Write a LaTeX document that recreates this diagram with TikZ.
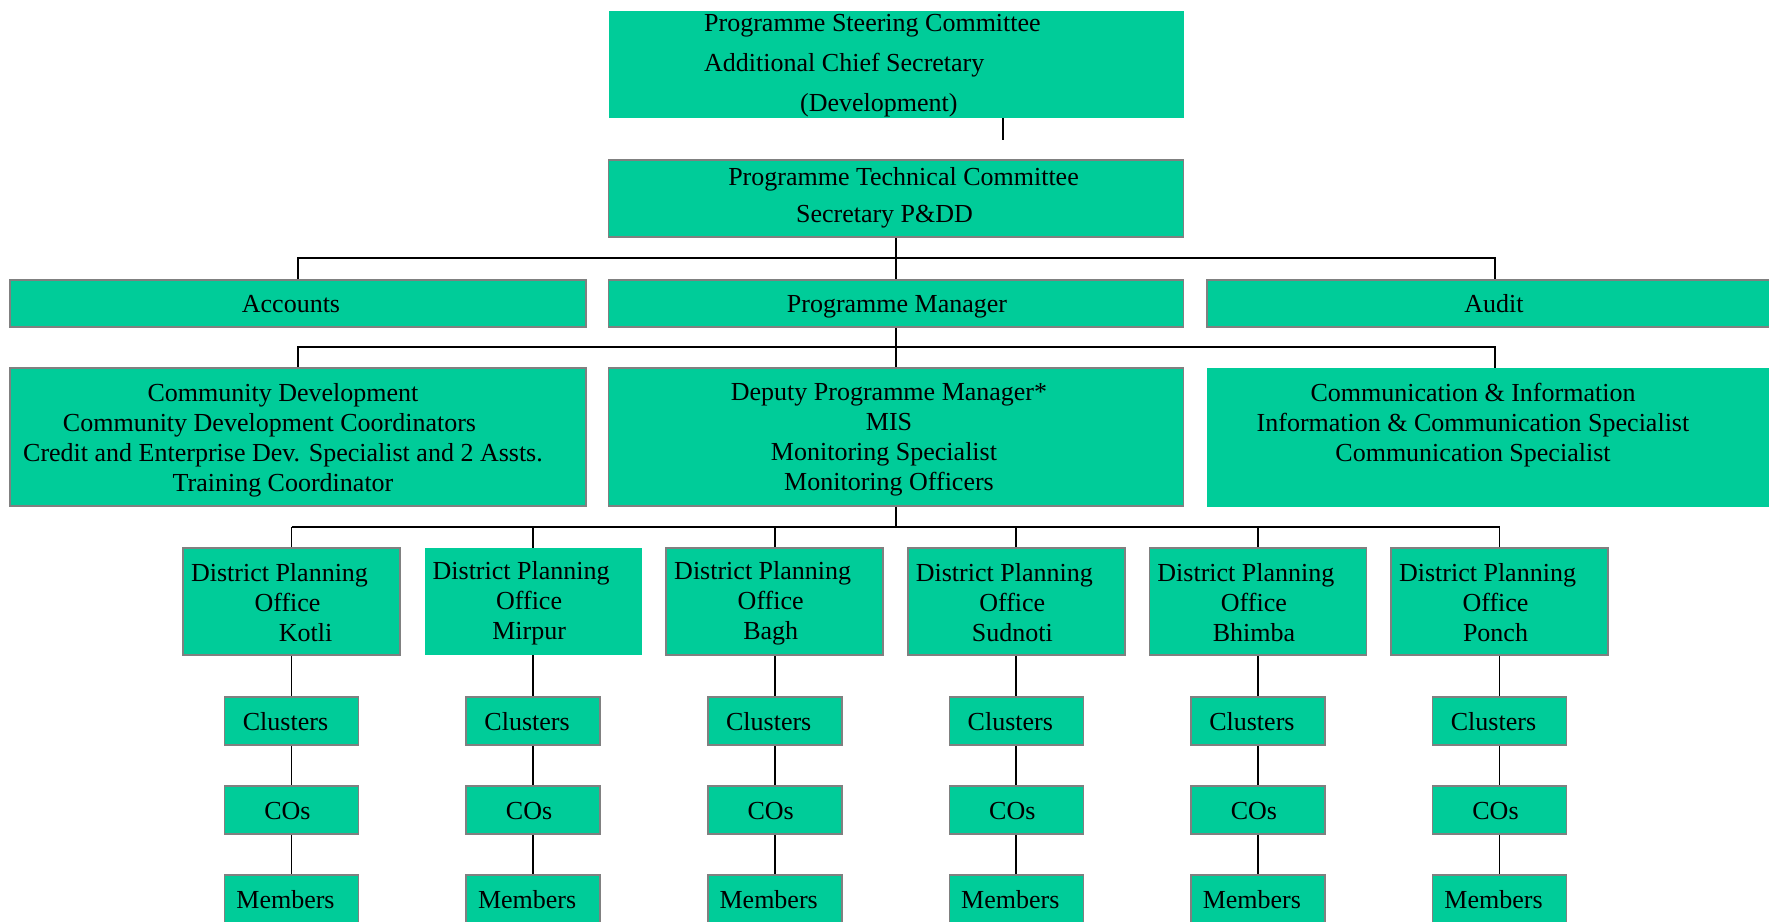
\documentclass[tikz,border=0pt]{standalone}
\usepackage{fontspec}
\setmainfont{Liberation Serif}
\definecolor{boxgreen}{RGB}{0,204,153}
\definecolor{boxedge}{RGB}{128,128,128}
\newcommand\chartfont{\fontsize{26}{30}\selectfont}
\newcommand\padr[1]{\rule{#1}{0pt}}
\begin{document}
\begin{tikzpicture}[x=1pt,y=-1pt,
  box/.style={rectangle, fill=boxgreen, draw=boxedge, line width=1.6pt, inner sep=0pt},
  plainbox/.style={rectangle, fill=boxgreen, inner sep=0pt},
  txt/.style={font=\chartfont, align=center, inner sep=0pt, text=black},
  oneline/.style={text depth=0pt},
  link/.style={draw=black, line width=1.8pt}]
\useasboundingbox (0,0) rectangle (1769,921);
\fill[white] (0,0) rectangle (1769,921);
\clip (0,0) rectangle (1769,921);

% top level
\node[plainbox, minimum width=575pt, minimum height=107pt] (psc) at (896,64.5) {};
\node[txt, align=left, font=\fontsize{26}{40}\selectfont, anchor=west] (psct) at (704,65.5)
  {Programme Steering Committee\\Additional Chief Secretary\\\hspace*{96pt}(Development)};
\coordinate (stub) at (1003,140);
\draw[link] (psc.south -| stub) -- (stub);

\node[box, minimum width=575pt, minimum height=77pt] (ptc) at (896,198.5) {};
\node[txt, font=\fontsize{26}{37}\selectfont] (ptct) at (894,198)
  {\hspace*{19pt}Programme Technical Committee\\Secretary P\&DD\padr{19pt}};

% second level
\node[box, minimum width=576pt, minimum height=47pt] (acc) at (298,303.5) {};
\node[box, minimum width=575pt, minimum height=47pt] (pm) at (896,303.5) {};
\node[box, minimum width=576pt, minimum height=47pt] (aud) at (1495,303.5) {};
\node[txt, oneline] (acct) at (291,303.5) {Accounts};
\node[txt, oneline] (pmt) at (897,303.5) {Programme Manager};
\node[txt, oneline] (audt) at (1494,303) {Audit};

\coordinate (bus1) at (896,258);
\draw[link] (ptc.south) -- (bus1);
\draw[link] (acc.north) |- (bus1) -| (aud.north);
\draw[link] (bus1) -- (pm.north);

% third level
\node[box, minimum width=576pt, minimum height=138pt] (cd) at (298,437) {};
\node[box, minimum width=575pt, minimum height=138pt] (dpm) at (896,437) {};
\node[plainbox, minimum width=576pt, minimum height=139pt] (ci) at (1495,437.5) {};
\node[txt] (cdt) at (283,440)
  {Community Development\\Community Development Coordinators\padr{27pt}\\Credit and Enterprise Dev. Specialist and 2 Assts.\\Training Coordinator};
\node[txt] (dpmt) at (889,440)
  {Deputy Programme Manager*\\MIS\\Monitoring Specialist\padr{10pt}\\Monitoring Officers};
\node[txt] (cit) at (1473,425)
  {Communication \& Information\\Information \& Communication Specialist\\Communication Specialist};

\coordinate (bus2) at (896,347);
\draw[link] (pm.south) -- (bus2);
\draw[link] (cd.north) |- (bus2) -| (ci.north);
\draw[link] (bus2) -- (dpm.north);

% district level
\coordinate (bus3) at (896,527);
\draw[link] (dpm.south) -- (bus3);
\foreach \i/\place/\st in {1/{\hspace*{36pt}Kotli}/box,2/Mirpur/plainbox,3/Bagh/box,4/Sudnoti/box,5/Bhimba/box,6/Ponch/box} {
  \pgfmathsetmacro\cx{291.5+241.6*(\i-1)}
  \node[\st, minimum width=217pt, minimum height=107pt] (dpo\i) at (\cx,601.5) {};
  \node[txt] (dpot\i) at (\cx-4,603) {District Planning\hspace*{16pt}\\Office\\\place};
  \node[box, minimum width=134pt, minimum height=48pt] (cl\i) at (\cx,721) {};
  \node[txt, oneline] (clt\i) at (\cx-6,721) {Clusters};
  \node[box, minimum width=134pt, minimum height=48pt] (co\i) at (\cx,810) {};
  \node[txt, oneline] (cot\i) at (\cx-4,811) {COs};
  \node[box, minimum width=134pt, minimum height=48pt] (mem\i) at (\cx,899) {};
  \node[txt, oneline] (memt\i) at (\cx-6,899) {Members};
  \draw[link] (dpo\i.north) -- (dpo\i.north |- bus3);
  \draw[link] (dpo\i.south) -- (cl\i.north);
  \draw[link] (cl\i.south) -- (co\i.north);
  \draw[link] (co\i.south) -- (mem\i.north);
}
\draw[link] (dpo1.north |- bus3) -- (dpo6.north |- bus3);
\end{tikzpicture}
\end{document}
